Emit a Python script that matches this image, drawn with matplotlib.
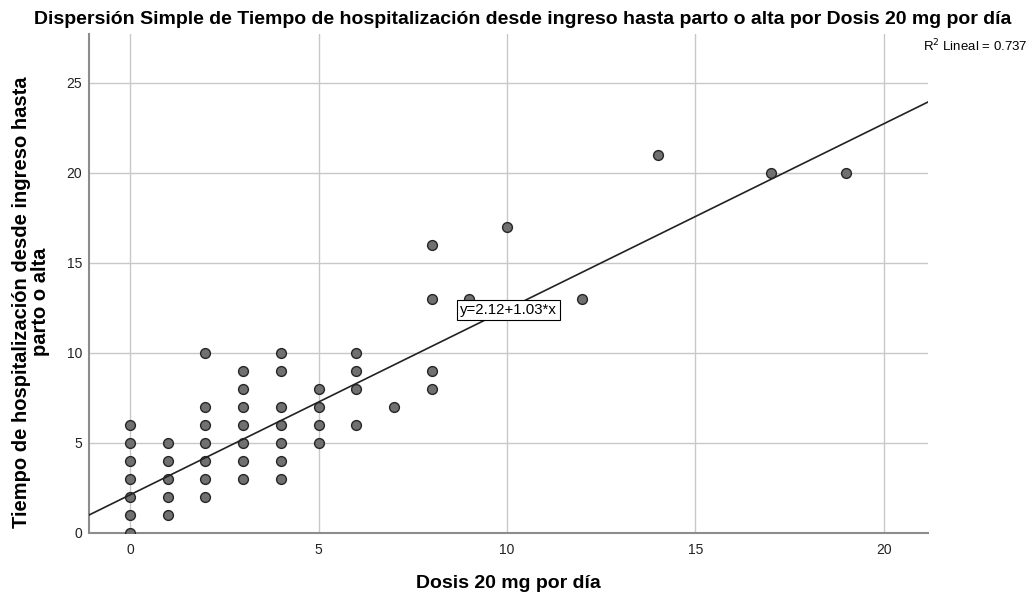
import matplotlib
matplotlib.use("Agg")
import matplotlib.pyplot as plt
import numpy as np

plt.rcParams['font.family'] = ['Liberation Sans', 'DejaVu Sans']

# Data
dosis = [0, 0, 0, 0, 0, 0, 0,
         1, 1, 1, 1, 1,
         2, 2, 2, 2, 2, 2, 2,
         3, 3, 3, 3, 3, 3, 3,
         4, 4, 4, 4, 4, 4, 4,
         5, 5, 5, 5,
         6, 6, 6, 6,
         7,
         8, 8, 8, 8,
         9, 10, 12, 14, 17, 19]
tiempo = [6, 5, 4, 3, 2, 1, 0,
          5, 4, 3, 2, 1,
          10, 7, 6, 5, 4, 3, 2,
          9, 8, 7, 6, 5, 4, 3,
          10, 9, 7, 6, 5, 4, 3,
          8, 7, 6, 5,
          10, 9, 8, 6,
          7,
          16, 13, 9, 8,
          13, 17, 13, 21, 20, 20]
fit_intercept = 2.12
fit_slope = 1.03
r2_label = "R$^2$ Lineal = 0.737"
eq_label = "y=2.12+1.03*x"
x_ticks = [0, 5, 10, 15, 20]
y_ticks = [0, 5, 10, 15, 20, 25]

fig = plt.figure(figsize=(10.32, 5.95), dpi=100)
ax = fig.add_axes([89/1032, 1 - 533/595, (928-89)/1032, (533-34)/595])

xmin, xmax = -1.09, 21.17
ax.set_xlim(xmin, xmax)
ax.set_ylim(0, 27.7)
ax.set_xticks(x_ticks)
ax.set_yticks(y_ticks)
ax.grid(True, color='#c8c8c8', linewidth=1.0)
ax.set_axisbelow(True)
ax.tick_params(length=0, labelsize=10, colors='#222222')
ax.tick_params(axis='x', pad=7)
ax.tick_params(axis='y', pad=5)
for s in ['top', 'right']:
    ax.spines[s].set_visible(False)
for s in ['left', 'bottom']:
    ax.spines[s].set_color('#8c8c8c')
    ax.spines[s].set_linewidth(1.5)

ax.scatter(dosis, tiempo, s=50, facecolor='#707070', edgecolor='#262626',
           linewidth=1.0, zorder=3, clip_on=True)

xs = np.array([xmin, xmax])
ax.plot(xs, fit_intercept + fit_slope * xs, color='#222222', linewidth=1.2, zorder=4)

ax.text(10.04, 12.39, eq_label, fontsize=10.8, ha='center', va='center', zorder=5,
        bbox=dict(boxstyle='square,pad=0.2', facecolor='white', edgecolor='black', linewidth=0.8))

fig.text(1028/1032, 1 - 46/595, r2_label, fontsize=9.5, ha='right', va='center')

fig.text(523/1032, 1 - 19/595,
         "Dispersión Simple de Tiempo de hospitalización desde ingreso hasta parto o alta por Dosis 20 mg por día",
         fontsize=14, fontweight='bold', ha='center', va='center')

ax.set_xlabel("Dosis 20 mg por día", fontsize=14, fontweight='bold')
ax.xaxis.set_label_coords(0.5, -(583-533)/499, transform=ax.transAxes)
ax.xaxis.label.set_va('center')
ax.set_ylabel("Tiempo de hospitalización desde ingreso hasta\nparto o alta", fontsize=14.5,
              fontweight='bold', linespacing=1.0)
ax.yaxis.set_label_coords(-(89-31)/839, (533-302)/499)
ax.yaxis.label.set_va('center')

fig.savefig("out.png", dpi=100)
